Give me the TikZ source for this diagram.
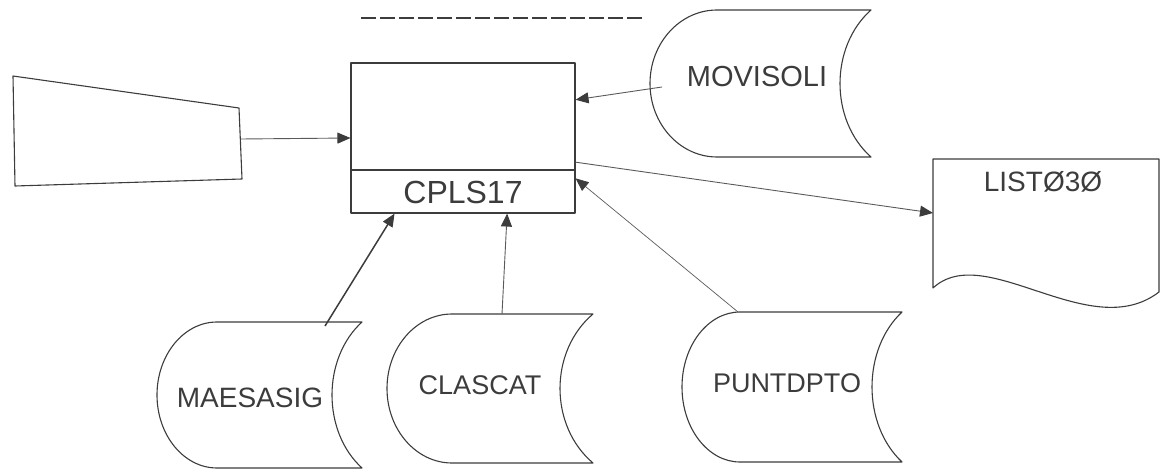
\documentclass[tikz,border=0pt]{standalone}
\usepackage{fontspec}
\setmainfont{Liberation Sans}
\usetikzlibrary{arrows.meta,calc}
\definecolor{ink}{HTML}{3C3C3C}
\definecolor{pencil}{HTML}{5A5A5A}

\tikzset{
  outline/.style={draw=ink, line width=1.1pt, line join=round},
  flow/.style={draw=pencil, line width=0.9pt,
    -{Triangle[length=13pt,width=11pt,color=ink]}},
  lbl/.style={text=ink, inner sep=0pt},
  hand/.style={lbl, font=\fontsize{#1}{#1}\selectfont},
}

% stored-data symbol: leftmost x, start of straight edges, right corners,
% leftmost point of the concave side, top y, bottom y
\newcommand\storeddata[6]{%
  \draw[outline] (#2,#5) -- (#3,#5)
    .. controls ({(4*#4-#3)/3},{#5+(#6-#5)/4}) and ({(4*#4-#3)/3},{#6-(#6-#5)/4}) .. (#3,#6)
    -- (#2,#6)
    .. controls ({#2-0.552*(#2-#1)},#6) and (#1,{(#5+#6)/2+0.276*(#6-#5)}) .. (#1,{(#5+#6)/2})
    .. controls (#1,{(#5+#6)/2-0.276*(#6-#5)}) and ({#2-0.552*(#2-#1)},#5) .. (#2,#5)
    -- cycle;}

\begin{document}
\begin{tikzpicture}[x=1pt,y=-1pt]
\useasboundingbox (0,0) rectangle (1167,470);

% title rule
\draw[ink, line width=1.3pt, dash pattern=on 15pt off 4pt] (361,18) -- (645,18);

% program box
\node[outline, minimum width=224pt, minimum height=150pt, inner sep=0pt] (cpls) at (463,138) {};
\draw[outline] ($(cpls.west)+(0,32)$) -- ($(cpls.east)+(0,32)$);
\node[hand=32] (cplsname) at (463,192) {CPLS17};

% manual input
\draw[outline] (13,76) -- (239,108) -- (242,179) -- (15,186) -- cycle;
\coordinate (inp-out) at (241,139);

% files
\storeddata{650}{717}{871}{840}{10}{157}
\node[hand=29] (movisoli) at (757,77) {MOVISOLI};
\coordinate (movisoli-out) at (662,87);

\storeddata{157}{217}{362}{332}{322}{468}
\node[hand=28] (maesasig) at (250,398) {MAESASIG};
\coordinate (maesasig-out) at (325,326);

\storeddata{387}{452}{593}{560}{314}{463}
\node[hand=27] (clascat) at (480,385) {CLASCAT};
\coordinate (clascat-out) at (502,314);

\storeddata{682}{740}{902}{872}{312}{462}
\node[hand=27] (puntdpto) at (787,383) {PUNTDPTO};
\coordinate (puntdpto-out) at (738,312);

% report
\draw[outline] (933,159) -- (1159,159) -- (1159,292)
  .. controls (1090,345) and (985,240) .. (933,288) -- cycle;
\node[hand=28] (list) at (1043,182) {LISTØ3Ø};
\coordinate (list-in) at (933,213);

% data flows
\draw[flow] (inp-out) -- (cpls.west);
\draw[flow] (movisoli-out) -- ($(cpls.north east)!0.247!(cpls.south east)$);
\draw[flow] ($(cpls.north east)!0.66!(cpls.south east)$) -- (list-in);
\draw[flow, line width=1.5pt, draw=ink] (maesasig-out) -- ($(cpls.south west)!0.196!(cpls.south east)$);
\draw[flow] (clascat-out) -- ($(cpls.south west)!0.696!(cpls.south east)$);
\draw[flow, line width=0.7pt] (puntdpto-out) -- ($(cpls.north east)!0.767!(cpls.south east)$);
\end{tikzpicture}
\end{document}
